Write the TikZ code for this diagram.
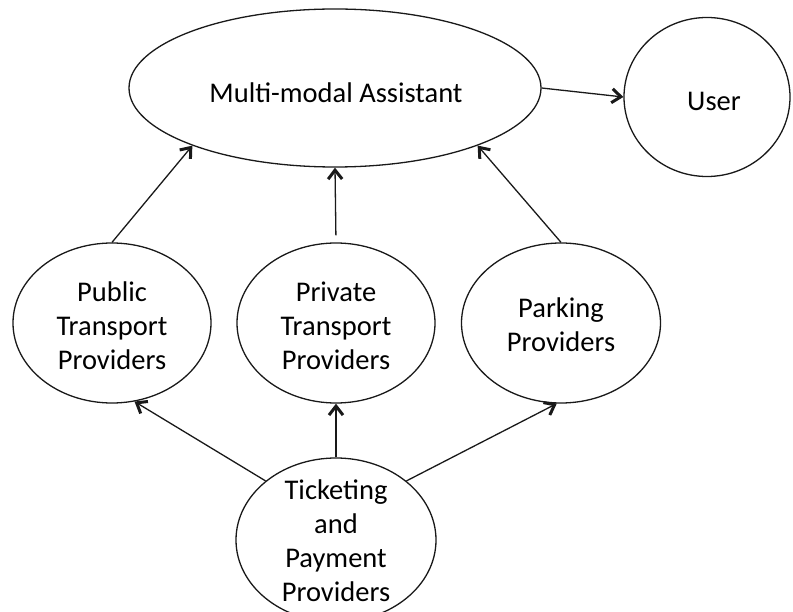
\documentclass[tikz,border=0pt]{standalone}
\usepackage{fontspec}
\setmainfont{Carlito}
\usetikzlibrary{shapes.geometric,arrows.meta}
\tikzset{
  oval/.style={draw=black!90, line width=1.3pt, ellipse, inner sep=0pt},
  txt/.style={align=center, inner sep=0pt, font=\fontsize{28.5}{34}\selectfont, text=black},
  arr/.style={draw=black!90, line width=1.3pt, -{Straight Barb[length=9pt,width=14pt,line width=3pt]}}
}
\begin{document}
\begin{tikzpicture}[x=1pt,y=-1pt]
\useasboundingbox (0,0) rectangle (793,612);
\node[oval, minimum width=412pt, minimum height=158pt] (main) at (335,88) {};
\node[txt] (maint) at (336,93) {Multi-modal Assistant};
\node[oval, minimum width=166pt, minimum height=159pt] (user) at (707,97) {};
\node[txt] (usert) at (714,101) {User};
\node[oval, minimum width=198pt, minimum height=160pt] (pub) at (112,323) {};
\node[txt] (pubt) at (112,326) {Public\\Transport\\Providers};
\node[oval, minimum width=198pt, minimum height=160pt] (pri) at (336,323) {};
\node[txt] (prit) at (336,326) {Private\\Transport\\Providers};
\node[oval, minimum width=199pt, minimum height=160pt] (park) at (561,323) {};
\node[txt] (parkt) at (561,325) {Parking\\Providers};
\node[oval, minimum width=200pt, minimum height=164pt] (tick) at (336,540) {};
\node[txt] (tickt) at (336,541) {Ticketing\\and\\Payment\\Providers};
\draw[arr] (main.east) -- (user.west);
\draw[arr] (pub.north) -- (main.202);
\draw[arr, shorten <=7pt] (pri.north) -- (main.south);
\draw[arr] (park.north) -- (main.338);
\draw[arr] (tick.140) -- (pub.286);
\draw[arr] (tick.north) -- (pri.south);
\draw[arr] (tick.40) -- (park.267);
\end{tikzpicture}
\end{document}
